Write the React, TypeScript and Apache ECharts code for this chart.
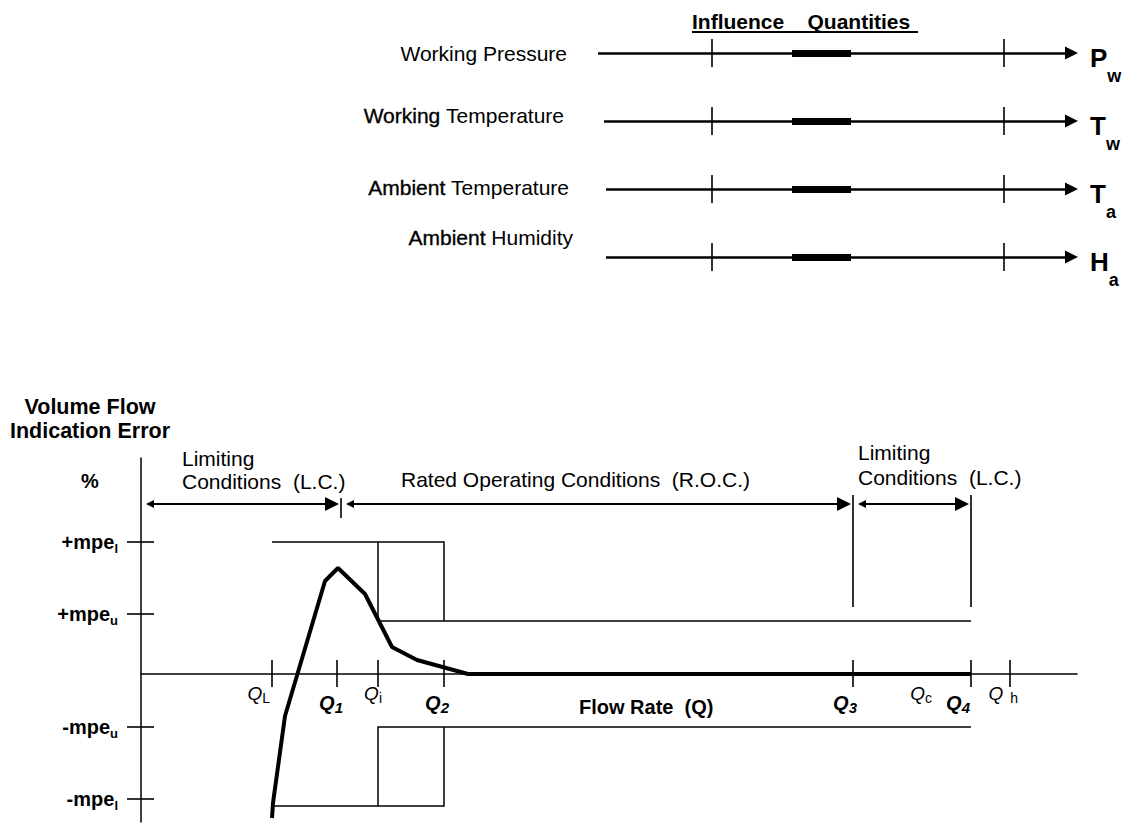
import React, { useEffect, useRef } from "react";
import * as echarts from "echarts";

// ---------- Influence quantities (upper panel) ----------
const influenceNames = ["Working Pressure", "Working Temperature", "Ambient Temperature", "Ambient Humidity"];
const influenceHeavyWord = ["", "Working", "Ambient", "Ambient"];
const influenceSymbols = ["P", "T", "T", "H"];
const influenceSubs = ["w", "w", "a", "a"];
const influenceStart = [1, 7, 9, 9];
const influenceEnd = 481;
const influenceLimits = [115, 407];
const referenceBand = [195, 254];

// ---------- Volume flow indication error (lower panel) ----------
const qNames = ["Q", "Q", "Q", "Q", "Q", "Q", "Q", "Q"];
const qSubs = ["L", "1", "i", "2", "3", "c", "4", "h"];
const qBold = [false, true, false, true, true, false, true, false];
const qValues = [131, 196, 237, 303, 712, 791, 830, 869];
const qHasTick = [true, true, true, true, true, false, true, true];
const flowMax = 936;
const rocStart = 200;

const mpeLabels = ["+mpe", "+mpe", "-mpe", "-mpe"];
const mpeSubs = ["l", "u", "u", "l"];
const mpeTickValues = [132, 60, -53, -125];
const mpeLower = 132;
const mpeUpper = 53;
const errMin = -148;
const errMax = 216;

const curveQ = [131, 132, 144, 184, 197, 224, 251, 276, 327, 830];
const curveError = [-144, -129, -42, 93, 106, 80, 27, 14, 0, 0];

const conditionLevel = 170;
const boundaryTop = 179;
const boundaryBottom = 67;
const rocTickTop = 176;
const rocTickBottom = 156;

// ---------- styling ----------
const FONT = "'Liberation Sans', Arial, Helvetica, sans-serif";
const INK = "#000000";
const ARROW_B: [number, number] = [8, 14];
const ARROW_T: [number, number] = [9, 13];
const qNudge = [-2, 6, 4, 5, 4, 0, -1, 8];
const qSubGap = [0, 0, 0, 0, 0, 0, 0, 7];
const nameShiftX = [0, -3, 2, 6];
const nameShiftY = [0, -6, -2, -20];

function richPair(
  mainSize: number, subSize: number, drop: number,
  weight: string, style: string, subWeight: string, subStyle: string, gapLeft = 0,
) {
  const base: any = { color: INK, fontFamily: FONT, verticalAlign: "top", opacity: 1 };
  return {
    m: { ...base, fontWeight: weight, fontStyle: style, fontSize: mainSize, lineHeight: mainSize },
    s: { ...base, fontWeight: subWeight, fontStyle: subStyle, fontSize: subSize, lineHeight: subSize, padding: [drop, 0, 0, gapLeft] },
  };
}

function seg(coords: number[][]) {
  return { coords };
}

function buildOption(): any {
  const [QL, , Qi, Q2, Q3, , Q4] = qValues;
  const L = mpeLower;
  const U = mpeUpper;
  const ib = ARROW_B[1] / 2;
  const it = ARROW_T[1] / 2;

  const envelope = [
    [[QL, L], [Q2, L], [Q2, U]],
    [[Qi, L], [Qi, U], [Q4, U]],
    [[QL, -L], [Q2, -L], [Q2, -U]],
    [[Qi, -L], [Qi, -U], [Q4, -U]],
  ].map(seg);

  const qTicks = qValues.filter((_, i) => qHasTick[i]).map((q) => seg([[q, 14], [q, -13]]));
  const yTicks = mpeTickValues.map((v) => seg([[-14, v], [13, v]]));
  const boundaries = [
    seg([[Q3, boundaryTop], [Q3, boundaryBottom]]),
    seg([[Q4, boundaryTop], [Q4, boundaryBottom]]),
    seg([[rocStart, rocTickTop], [rocStart, rocTickBottom]]),
  ];
  const spans = [
    [0, rocStart],
    [rocStart, Q3],
    [Q3, Q4],
  ].map(([a, b]) => seg([[a + 2 + ib, conditionLevel], [b - 2 - ib, conditionLevel]]));

  const lineBase = { type: "lines", coordinateSystem: "cartesian2d", silent: true, clip: false, animation: false };
  const labelBase = { show: true, color: INK, opacity: 1, fontFamily: FONT };
  const scatterBase = { type: "scatter", symbolSize: 0, silent: true, clip: false, itemStyle: { opacity: 1, color: INK } };

  const series: any[] = [
    { ...lineBase, xAxisIndex: 0, yAxisIndex: 0, polyline: true, lineStyle: { color: INK, width: 1.5, opacity: 1 }, data: envelope },
    { ...lineBase, xAxisIndex: 0, yAxisIndex: 0, lineStyle: { color: INK, width: 1.6, opacity: 1 }, data: [...qTicks, ...yTicks, ...boundaries] },
    {
      ...lineBase, xAxisIndex: 0, yAxisIndex: 0, symbol: ["triangle", "triangle"], symbolSize: ARROW_B,
      color: INK, itemStyle: { color: INK }, lineStyle: { color: INK, width: 2, opacity: 1 }, data: spans,
    },
    {
      type: "line", xAxisIndex: 0, yAxisIndex: 0, silent: true, symbol: "none", z: 5,
      data: curveQ.map((q, i) => [q, curveError[i]]),
      lineStyle: { color: INK, width: 4 },
    },
    {
      ...scatterBase, xAxisIndex: 0, yAxisIndex: 0,
      data: qValues.map((q, i) => ({
        value: [q, 0],
        label: {
          ...labelBase, position: "left", distance: 0,
          offset: [qNudge[i], qBold[i] ? 29 : 19],
          formatter: `{m|${qNames[i]}}{s|${qSubs[i]}}`,
          rich: qBold[i]
            ? richPair(20, 15, 7, "bold", "italic", "bold", "italic", qSubGap[i])
            : richPair(19, 14, 7, "normal", "italic", "normal", "normal", qSubGap[i]),
        },
      })),
    },
    {
      ...scatterBase, xAxisIndex: 0, yAxisIndex: 0,
      data: mpeTickValues.map((v, i) => ({
        value: [0, v],
        label: {
          ...labelBase, position: "left", distance: 23, offset: [0, 0],
          formatter: `{m|${mpeLabels[i]}}{s|${mpeSubs[i]}}`,
          rich: richPair(20, 13, 10, "bold", "normal", "bold", "normal"),
        },
      })),
    },
    // ---- upper panel ----
    {
      ...lineBase, xAxisIndex: 1, yAxisIndex: 1, symbol: ["none", "triangle"], symbolSize: ARROW_T,
      color: INK, itemStyle: { color: INK }, lineStyle: { color: INK, width: 2.5, opacity: 1 },
      data: influenceNames.map((_, i) => seg([[influenceStart[i], i], [influenceEnd - it, i]])),
    },
    {
      ...lineBase, xAxisIndex: 1, yAxisIndex: 1, lineStyle: { color: INK, width: 1.6, opacity: 1 },
      data: influenceNames.flatMap((_, i) => influenceLimits.map((x) => seg([[x, i - 0.206], [x, i + 0.206]]))),
    },
    {
      ...lineBase, xAxisIndex: 1, yAxisIndex: 1, lineStyle: { color: INK, width: 7, opacity: 1 },
      data: influenceNames.map((_, i) => seg([[referenceBand[0], i], [referenceBand[1], i]])),
    },
    {
      ...scatterBase, xAxisIndex: 1, yAxisIndex: 1,
      data: influenceNames.map((name, i) => {
        const heavy = influenceHeavyWord[i];
        const rest = heavy ? name.slice(heavy.length + 1) : name;
        return {
          value: [0, i],
          label: {
            ...labelBase, position: "left", distance: 30, offset: [nameShiftX[i], nameShiftY[i]],
            formatter: heavy ? `{h|${heavy} }{n|${rest}}` : `{n|${rest}}`,
            rich: {
              h: { color: INK, fontFamily: FONT, fontSize: 21, textBorderColor: INK, textBorderWidth: 0.35 },
              n: { color: INK, fontFamily: FONT, fontSize: 21 },
            },
          },
        };
      }),
    },
    {
      ...scatterBase, xAxisIndex: 1, yAxisIndex: 1,
      data: influenceSymbols.map((s, i) => ({
        value: [influenceEnd, i],
        label: {
          ...labelBase, position: "right", distance: 12, offset: [0, 5],
          formatter: `{m|${s}}{s|${influenceSubs[i]}}`,
          rich: richPair(26, 18, 22, "bold", "normal", "bold", "normal"),
        },
      })),
    },
  ];

  const txt = (text: string, x: number, y: number, size: number, weight: string, align = "left", lineHeight?: number) => ({
    type: "text", x, y, silent: true,
    style: {
      text, fill: INK, fontFamily: FONT, fontSize: size, fontWeight: weight,
      textAlign: align, align, textVerticalAlign: "middle", verticalAlign: "middle",
      lineHeight: lineHeight ?? size,
    },
  });

  return {
    animation: false,
    backgroundColor: "#ffffff",
    textStyle: { fontFamily: FONT, color: INK },
    grid: [
      { left: 141, right: 56, top: 458, bottom: 3 },
      { left: 597, right: 55, top: 19, height: 272 },
    ],
    xAxis: [
      {
        gridIndex: 0, type: "value", min: 0, max: flowMax,
        axisLine: { show: true, onZero: true, lineStyle: { color: INK, width: 1.6 } },
        axisTick: { show: false }, axisLabel: { show: false }, splitLine: { show: false },
      },
      { gridIndex: 1, type: "value", min: 0, max: influenceEnd, show: false, splitLine: { show: false } },
    ],
    yAxis: [
      {
        gridIndex: 0, type: "value", min: errMin, max: errMax,
        axisLine: { show: true, onZero: true, lineStyle: { color: INK, width: 1.5 } },
        axisTick: { show: false }, axisLabel: { show: false }, splitLine: { show: false },
      },
      { gridIndex: 1, type: "value", min: -0.5, max: 3.5, inverse: true, show: false, splitLine: { show: false } },
    ],
    graphic: [
      txt("Volume Flow", 90, 407, 21.5, "bold", "center"),
      txt("Indication Error", 90, 431, 21.5, "bold", "center"),
      txt("%", 90, 481, 20, "bold", "center"),
      txt("Influence    Quantities", 692, 21, 21, "bold", "left"),
      { type: "line", silent: true, shape: { x1: 692, y1: 32, x2: 918, y2: 32 }, style: { stroke: INK, lineWidth: 2 } },
      txt("Limiting\nConditions  (L.C.)", 182, 469.5, 21, "normal", "left", 23),
      txt("Rated Operating Conditions  (R.O.C.)", 401, 479, 21, "normal", "left"),
      txt("Limiting\nConditions  (L.C.)", 858, 464.5, 21, "normal", "left", 25),
      txt("Flow Rate  (Q)", 579, 707, 20, "bold", "left"),
    ],
    series,
  };
}

export default function App() {
  const ref = useRef<HTMLDivElement>(null);
  useEffect(() => {
    document.body.style.margin = "0";
    const chart = echarts.init(ref.current as HTMLDivElement, null, { renderer: "svg" });
    chart.setOption(buildOption());
    return () => chart.dispose();
  }, []);
  return (
    <div
      ref={ref}
      style={{ position: "absolute", left: 0, top: 0, width: 1133, height: 825, background: "#ffffff" }}
    />
  );
}
